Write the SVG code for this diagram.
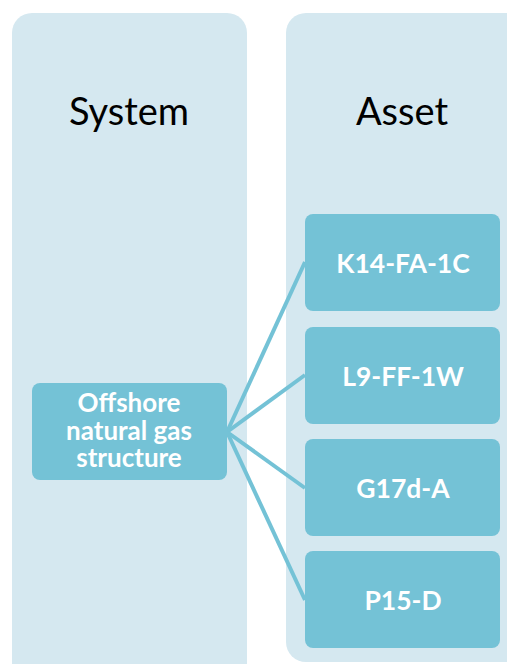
<svg xmlns="http://www.w3.org/2000/svg" width="507" height="664" viewBox="0 0 507 664">
<style>
.col{fill:#d5e8f0}
.box{fill:#74c2d6}
.title{font-family:Lato,"Liberation Sans",sans-serif;font-size:38px;fill:#000;text-anchor:middle}
.lbl{font-family:Lato,"Liberation Sans",sans-serif;font-weight:bold;font-size:26.5px;fill:#fff;text-anchor:middle}
.lbl2{font-family:Lato,"Liberation Sans",sans-serif;font-weight:bold;font-size:26px;fill:#fff;text-anchor:middle}
.con{stroke:#74c2d6;stroke-width:4;fill:none}
</style>
<g id="lane-system">
<rect class="col" x="12" y="13" width="235" height="670" rx="20"/>
<text class="title" x="129" y="125">System</text>
</g>
<g id="lane-asset">
<rect class="col" x="286" y="13" width="240" height="649" rx="20"/>
<text class="title" x="402" y="125">Asset</text>
</g>
<g id="connectors">
<line class="con" x1="227" y1="432" x2="305" y2="262"/>
<line class="con" x1="227" y1="432" x2="305" y2="375"/>
<line class="con" x1="227" y1="432" x2="305" y2="488"/>
<line class="con" x1="227" y1="432" x2="305" y2="600"/>
</g>
<g id="offshore">
<rect class="box" x="32" y="383" width="195" height="97" rx="8"/>
<text class="lbl2" x="129" y="412">Offshore</text>
<text class="lbl2" x="129" y="440">natural gas</text>
<text class="lbl2" x="129" y="467">structure</text>
</g>
<g id="k14">
<rect class="box" x="305" y="214" width="195" height="97" rx="8"/>
<text class="lbl" x="403" y="273">K14-FA-1C</text>
</g>
<g id="l9">
<rect class="box" x="305" y="327" width="195" height="97" rx="8"/>
<text class="lbl" x="403" y="386">L9-FF-1W</text>
</g>
<g id="g17">
<rect class="box" x="305" y="439" width="195" height="97" rx="8"/>
<text class="lbl" x="403" y="498">G17d-A</text>
</g>
<g id="p15">
<rect class="box" x="305" y="551" width="195" height="97" rx="8"/>
<text class="lbl" x="403" y="610">P15-D</text>
</g>
</svg>
